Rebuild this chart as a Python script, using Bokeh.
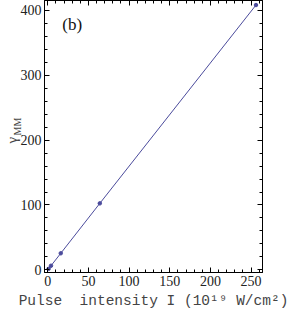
from bokeh.plotting import figure
from bokeh.models import Range1d, LinearAxis, Label, SingleIntervalTicker, CustomJSTickFormatter
from bokeh.embed import file_html
from bokeh.resources import INLINE

# data
intensity = [1, 4, 16, 64, 256]
gamma_mm = [1.6, 6.4, 25.6, 102.5, 408.0]

LINE = "#4b4b9c"

p = figure(width=284, height=312, output_backend="svg", toolbar_location=None,
           x_range=Range1d(-4, 264), y_range=Range1d(-4, 415),
           frame_width=218, frame_height=272,
           min_border_left=0, min_border_right=26, min_border_top=0, min_border_bottom=40)
p.xgrid.visible = False
p.ygrid.visible = False
p.outline_line_color = "black"
p.background_fill_color = "white"
p.border_fill_color = "white"

p.line(intensity, gamma_mm, line_color=LINE, line_width=1)
p.scatter(intensity, gamma_mm, size=3.5, fill_color=LINE, line_color=LINE)

def style(ax, labels=True):
    ax.axis_line_color = "black"
    ax.major_tick_in = 5
    ax.major_tick_out = 0
    ax.minor_tick_in = 3
    ax.minor_tick_out = 0
    ax.major_tick_line_color = "black"
    ax.minor_tick_line_color = "black"
    ax.major_label_text_font = "Liberation Serif"
    ax.major_label_text_font_size = "14px"
    ax.major_label_text_color = "#222222"
    if not labels:
        ax.formatter = CustomJSTickFormatter(code="return '';")
        ax.major_label_standoff = 0

p.xaxis.ticker = SingleIntervalTicker(interval=50, num_minor_ticks=5)
p.yaxis.ticker = SingleIntervalTicker(interval=100, num_minor_ticks=5)
style(p.xaxis[0])
style(p.yaxis[0])
p.xaxis.major_label_standoff = 3
p.yaxis.major_label_standoff = 3
p.xaxis.axis_label = "Pulse\u00a0\u00a0intensity I (10\u00b9\u2079 W/cm\u00b2)"
p.xaxis.axis_label_text_font = "Liberation Mono"
p.xaxis.axis_label_text_font_size = "14.5px"
p.xaxis.axis_label_text_font_style = "normal"
p.xaxis.axis_label_standoff = 4

# y title: subscript "MM" on the main axis, "γ" on an outer bare axis
p.yaxis.axis_label = "\u00a0" * 8 + "MM"
p.yaxis.axis_label_text_font = "Liberation Serif"
p.yaxis.axis_label_text_font_size = "10px"
p.yaxis.axis_label_text_font_style = "normal"
p.yaxis.axis_label_standoff = -5

ga = LinearAxis(ticker=SingleIntervalTicker(interval=100, num_minor_ticks=5))
ga.formatter = CustomJSTickFormatter(code="return '';")
ga.axis_line_color = None
ga.major_tick_line_color = None
ga.minor_tick_line_color = None
ga.major_tick_in = 0
ga.major_tick_out = 0
ga.minor_tick_in = 0
ga.minor_tick_out = 0
ga.major_label_standoff = 0
ga.axis_label = "\u03b3" + "\u00a0" * 2
ga.axis_label_text_font = "Liberation Serif"
ga.axis_label_text_font_size = "15px"
ga.axis_label_text_font_style = "normal"
ga.axis_label_standoff = -11
p.add_layout(ga, "left")

ra = LinearAxis(ticker=SingleIntervalTicker(interval=100, num_minor_ticks=5))
style(ra, labels=False)
p.add_layout(ra, "right")
ta = LinearAxis(ticker=SingleIntervalTicker(interval=50, num_minor_ticks=5))
style(ta, labels=False)
p.add_layout(ta, "above")

p.add_layout(Label(x=30, y=378, text="(b)", text_font="Liberation Serif",
                   text_font_size="17px", text_align="center", text_baseline="middle",
                   text_color="#111111"))

open("out.html", "w").write(file_html(p, INLINE))
